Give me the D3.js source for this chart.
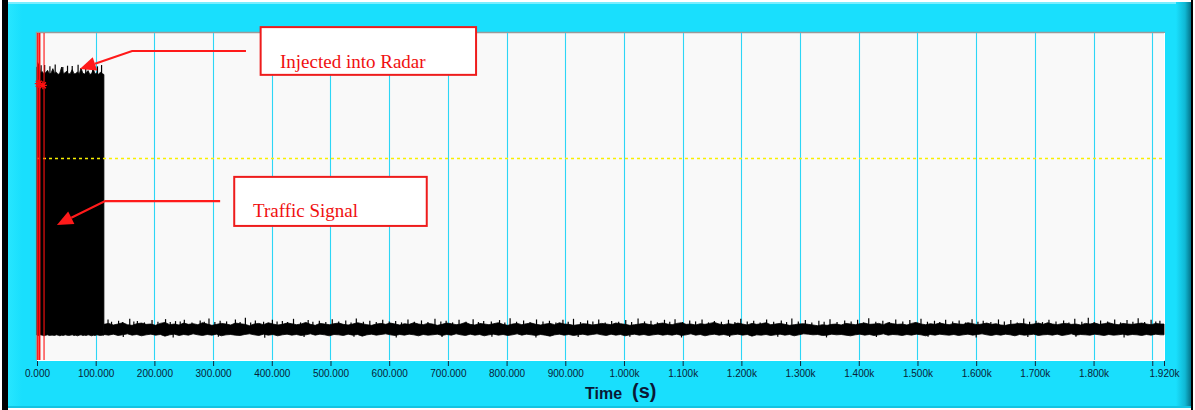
<!DOCTYPE html>
<html>
<head>
<meta charset="utf-8">
<script src="https://cdn.jsdelivr.net/npm/d3@7"></script>
<style>
  html, body { margin: 0; padding: 0; background: #ffffff; }
  svg { display: block; }
</style>
</head>
<body>
<svg id="chart" width="1195" height="410"></svg>
<script>
// ---- data -------------------------------------------------------------
// time axis (s)
const timeDomain = [0, 1920];
const tickValues = [0, 100, 200, 300, 400, 500, 600, 700, 800, 900, 1000,
  1100, 1200, 1300, 1400, 1500, 1600, 1700, 1800, 1900, 1920];
const hiddenTickLabels = [1900];
// amplitude axis (arbitrary units, not labelled)
const ampDomain = [0, 100];
const thresholdLevel = 61.8;

// injected burst: envelope every 3 s from 0 to 114 s
const burstStart = 0, burstStep = 3;
const burstHi = [89.5, 90.6, 87.8, 88.2, 87.4, 87.9, 88.6, 87.5, 87.7, 89.1,
  87.6, 88.0, 87.3, 87.8, 89.6, 87.5, 87.9, 88.3, 87.4, 87.7,
  88.8, 87.5, 87.6, 88.1, 87.4, 89.3, 87.7, 87.5, 87.9, 88.5,
  87.3, 87.6, 88.9, 87.5, 87.8, 87.4, 88.0, 87.6, 87.3];
const burstLo = [7.6, 7.5, 7.7, 7.6, 7.4, 7.6, 7.7, 7.5, 7.6, 7.6,
  7.5, 7.7, 7.6, 7.4, 7.6, 7.5, 7.7, 7.6, 7.5, 7.6,
  7.7, 7.5, 7.6, 7.4, 7.6, 7.7, 7.5, 7.6, 7.5, 7.7,
  7.6, 7.4, 7.6, 7.5, 7.7, 7.6, 7.5, 7.6, 7.6];
const burstSpikes = [[1, 91.0], [4, 90.8], [7, 90.1], [13, 90.2], [22, 89.8],
  [31, 90.4], [44, 89.6], [52, 90.0], [60, 89.9], [70, 90.3], [83, 89.7],
  [95, 90.1], [103, 89.8], [110, 90.2]];

// traffic signal: envelope every 8 s from 114 s onwards
const noiseStart = 114, noiseStep = 8;
const noiseHi = [10.9, 11.2, 10.7, 11.0, 11.4, 10.8, 10.6, 11.1, 11.3, 10.9,
  11.0, 10.6, 11.2, 11.5, 10.8, 11.0, 10.7, 11.3, 10.9, 11.1,
  10.8, 11.4, 11.0, 10.6, 10.9, 11.2, 11.0, 10.7, 11.3, 11.1,
  10.9, 10.5, 11.0, 11.2, 10.8, 11.4, 11.0, 10.7, 10.9, 11.3,
  11.1, 10.8, 11.0, 11.5, 10.9, 10.6, 11.2, 11.0, 10.8, 11.1,
  11.3, 10.9, 10.7, 11.0, 11.4, 11.1, 10.8, 10.6, 11.0, 11.2,
  10.9, 11.3, 11.0, 10.7, 11.1, 10.9, 11.4, 11.0, 10.8, 11.2,
  11.0, 10.6, 10.9, 11.3, 11.1, 10.8, 11.0, 11.5, 10.9, 10.7,
  11.2, 11.0, 10.8, 11.1, 11.4, 10.9, 10.6, 11.0, 11.2, 10.8,
  11.1, 11.3, 10.9, 10.7, 11.0, 11.2, 10.8, 11.4, 11.0, 10.9,
  10.6, 10.8, 11.1, 11.0, 10.7, 10.9, 11.2, 11.0, 10.8, 11.3,
  11.1, 10.9, 10.6, 10.8, 11.0, 11.2, 10.9, 10.7, 11.1, 11.3,
  11.0, 10.8, 11.2, 11.4, 10.9, 11.0, 10.7, 11.1, 10.9, 11.2,
  11.5, 11.0, 10.8, 11.1, 10.9, 11.3, 11.0, 10.7, 11.2, 10.9,
  11.1, 11.4, 10.8, 11.0, 11.2, 10.9, 10.6, 10.8, 11.0, 11.1,
  10.9, 10.7, 10.5, 10.8, 10.6, 10.9, 11.0, 10.7, 11.2, 11.0,
  10.8, 11.1, 11.3, 10.9, 11.0, 11.2, 10.8, 11.4, 11.1, 10.9,
  11.0, 10.7, 11.2, 11.5, 11.0, 10.8, 11.1, 10.9, 11.3, 11.0,
  10.8, 11.2, 11.0, 10.9, 11.4, 11.1, 10.8, 11.0, 11.3, 10.9,
  11.1, 10.7, 10.6, 10.9, 11.0, 11.2, 11.1, 10.8, 11.0, 11.3,
  10.9, 11.4, 11.0, 10.8, 11.1, 11.2, 10.9, 11.0, 10.7, 11.2,
  11.0, 11.3, 10.9, 11.1, 11.4, 11.0, 10.8, 11.2, 11.0, 10.9,
  11.1, 11.3, 11.0, 10.8, 11.2, 11.0];
const noiseLo = [7.8, 7.6, 7.9, 7.5, 7.7, 8.0, 7.6, 7.8, 7.4, 7.7,
  7.9, 7.6, 7.8, 7.3, 7.7, 7.9, 7.5, 7.8, 7.6, 8.0,
  7.7, 7.5, 7.8, 7.6, 7.9, 7.4, 7.7, 7.8, 7.6, 7.5,
  7.8, 8.0, 7.7, 7.5, 7.9, 7.6, 7.8, 7.4, 7.7, 7.9,
  7.6, 7.8, 7.5, 7.7, 8.0, 7.6, 7.9, 7.7, 7.4, 7.8,
  7.7, 7.5, 7.9, 7.6, 7.8, 7.3, 7.7, 7.9, 7.6, 7.8,
  8.0, 7.7, 7.5, 7.8, 7.6, 7.9, 7.7, 7.4, 7.8, 7.6,
  7.7, 7.9, 7.5, 7.8, 7.6, 8.0, 7.7, 7.5, 7.9, 7.6,
  7.8, 7.4, 7.7, 7.9, 7.6, 7.8, 7.5, 7.7, 8.0, 7.6,
  7.9, 7.7, 7.5, 7.8, 7.6, 7.3, 7.7, 7.9, 7.6, 7.8,
  7.5, 7.7, 7.9, 7.6, 7.8, 8.0, 7.7, 7.5, 7.9, 7.6,
  7.8, 7.4, 7.7, 7.9, 7.6, 7.8, 7.5, 7.7, 7.9, 7.6,
  7.8, 7.6, 7.9, 7.5, 7.7, 8.0, 7.6, 7.8, 7.4, 7.7,
  7.9, 7.6, 7.8, 7.5, 7.7, 7.9, 7.6, 7.8, 7.3, 7.7,
  7.6, 7.8, 7.5, 7.7, 7.9, 7.6, 7.8, 7.4, 7.7, 8.0,
  7.9, 7.7, 7.8, 7.5, 7.6, 7.9, 7.7, 7.8, 7.6, 7.4,
  7.7, 7.9, 7.6, 7.8, 7.5, 7.7, 8.0, 7.6, 7.8, 7.7,
  7.5, 7.8, 7.6, 7.9, 7.7, 7.4, 7.8, 7.6, 7.9, 7.7,
  7.6, 7.8, 7.5, 7.7, 7.9, 7.6, 7.8, 8.0, 7.7, 7.5,
  7.8, 7.6, 7.9, 7.7, 7.4, 7.8, 7.6, 7.7, 7.9, 7.5,
  7.7, 7.8, 7.6, 7.9, 7.5, 7.7, 8.0, 7.6, 7.8, 7.7,
  7.6, 7.9, 7.7, 7.5, 7.8, 7.6, 7.7, 7.9, 7.6, 7.8,
  7.7, 7.5, 7.8, 7.6, 7.9, 7.7];
const noiseSpikesUp = [[121, 12.4], [139, 12.0], [158, 12.6], [171, 11.9], [196, 12.2],
  [219, 12.5], [236, 11.9], [251, 12.3], [278, 12.1], [293, 12.7], [312, 12.0],
  [338, 12.4], [355, 12.9], [372, 12.1], [401, 12.3], [418, 11.9], [437, 12.6],
  [462, 12.2], [481, 12.0], [503, 12.5], [526, 12.1], [544, 12.7], [567, 12.0],
  [589, 12.3], [611, 11.9], [632, 12.4], [655, 12.1], [678, 12.6], [697, 12.0],
  [719, 12.3], [743, 12.5], [761, 11.9], [788, 12.2], [806, 12.8], [829, 12.1],
  [851, 12.4], [873, 12.0], [896, 12.3], [914, 12.6], [938, 12.1], [957, 12.4],
  [979, 11.9], [1003, 12.2], [1024, 12.7], [1046, 12.0], [1069, 12.3], [1087, 12.5],
  [1112, 12.1], [1133, 12.4], [1154, 11.9], [1178, 12.3], [1199, 12.6], [1221, 12.0],
  [1243, 12.4], [1268, 12.1], [1286, 12.7], [1309, 12.2], [1332, 12.0], [1351, 12.5],
  [1376, 12.1], [1398, 12.3], [1417, 12.8], [1441, 12.0], [1463, 12.4], [1487, 12.2],
  [1506, 12.6], [1529, 12.0], [1548, 12.3], [1571, 12.1], [1593, 12.5], [1612, 12.0],
  [1638, 12.4], [1659, 12.2], [1681, 12.7], [1702, 12.0], [1724, 12.3], [1749, 12.1],
  [1768, 12.6], [1791, 12.9], [1812, 12.1], [1836, 12.4], [1857, 12.2], [1876, 12.8],
  [1898, 12.3], [1913, 12.0]];
// smaller ripples on the upper edge of the traffic band
const noiseRipples = [[127, 11.7], [146, 11.6], [165, 11.8], [183, 11.5], [206, 11.7],
  [227, 11.6], [244, 11.8], [264, 11.5], [285, 11.7], [303, 11.6], [323, 11.8],
  [346, 11.6], [364, 11.5], [386, 11.7], [409, 11.8], [427, 11.6], [449, 11.5],
  [470, 11.7], [492, 11.6], [514, 11.8], [535, 11.5], [556, 11.7], [578, 11.6],
  [600, 11.8], [621, 11.5], [643, 11.7], [666, 11.6], [688, 11.8], [708, 11.5],
  [731, 11.7], [752, 11.6], [774, 11.8], [797, 11.5], [817, 11.7], [840, 11.6],
  [862, 11.8], [884, 11.5], [905, 11.7], [926, 11.6], [947, 11.8], [968, 11.5],
  [991, 11.7], [1013, 11.6], [1035, 11.8], [1057, 11.5], [1078, 11.7], [1100, 11.6],
  [1122, 11.8], [1144, 11.5], [1166, 11.7], [1189, 11.6], [1210, 11.8], [1232, 11.5],
  [1255, 11.7], [1277, 11.6], [1297, 11.8], [1320, 11.5], [1341, 11.7], [1363, 11.6],
  [1387, 11.8], [1408, 11.5], [1429, 11.7], [1452, 11.6], [1475, 11.8], [1496, 11.5],
  [1517, 11.7], [1538, 11.6], [1560, 11.8], [1582, 11.5], [1603, 11.7], [1625, 11.6],
  [1648, 11.8], [1670, 11.5], [1691, 11.7], [1713, 11.6], [1736, 11.8], [1758, 11.5],
  [1780, 11.7], [1801, 11.6], [1824, 11.8], [1846, 11.5], [1867, 11.7], [1887, 11.6],
  [1906, 11.8]];
const noiseSpikesDown = [[147, 7.0], [232, 6.9], [309, 7.1], [388, 6.8], [455, 7.0],
  [540, 7.1], [612, 6.9], [690, 7.0], [775, 7.1], [850, 6.9], [922, 7.0], [1010, 7.1],
  [1098, 6.9], [1180, 7.0], [1262, 7.1], [1345, 6.9], [1430, 7.0], [1518, 7.1],
  [1600, 6.9], [1688, 7.0], [1770, 7.1], [1852, 6.9]];

// cursors (s) and cursor point markers [time, level]
const cursorTimes = [1.5, 4.5, 12];
const cursorWidths = [1.6, 1.6, 1.1];
const cursorMarks = [[3, 84.5], [10, 84.0]];

// callouts, placed in [time, level] coordinates
const callouts = [
  { text: "Injected into Radar", box: [381, 101.8, 748, 87.2], textAt: [414, 89.4],
    path: [[356, 94.5], [162, 94.5], [73, 89.0]] },
  { text: "Traffic Signal", box: [336, 56.0, 664, 41.0], textAt: [368, 43.6],
    path: [[312, 48.6], [116, 48.6], [34, 41.3]] }
];

// ---- layout -------------------------------------------------------------
const W = 1195, H = 410;
const plot = { left: 37, right: 1164, top: 33, bottom: 360 };
const svg = d3.select("#chart");

const x = d3.scaleLinear().domain(timeDomain).range([plot.left, plot.right]);
const y = d3.scaleLinear().domain(ampDomain).range([plot.bottom, plot.top]);

// ---- panel frame ---------------------------------------------------------
const defs = svg.append("defs");
const rightShade = defs.append("linearGradient").attr("id", "rightShade");
rightShade.append("stop").attr("offset", "0%").attr("stop-color", "#19dffd");
rightShade.append("stop").attr("offset", "60%").attr("stop-color", "#10b8d4");
rightShade.append("stop").attr("offset", "100%").attr("stop-color", "#057489");
const leftShade = defs.append("linearGradient").attr("id", "leftShade");
leftShade.append("stop").attr("offset", "0%").attr("stop-color", "#27e6ff");
leftShade.append("stop").attr("offset", "100%").attr("stop-color", "#19dffd");

svg.append("rect").attr("width", W).attr("height", H).attr("fill", "#ffffff");
svg.append("rect").attr("x", 2).attr("y", 0).attr("width", 6).attr("height", H).attr("fill", "#000");
svg.append("rect").attr("x", 8).attr("y", 2).attr("width", 1183).attr("height", 406).attr("fill", "#19dffd");
svg.append("rect").attr("x", 8).attr("y", 2).attr("width", 14).attr("height", 406).attr("fill", "url(#leftShade)");
svg.append("rect").attr("x", 8).attr("y", 2).attr("width", 1183).attr("height", 2).attr("fill", "#7aeeff");
svg.append("rect").attr("x", 1176).attr("y", 2).attr("width", 15).attr("height", 406).attr("fill", "url(#rightShade)");
svg.append("rect").attr("x", 1191).attr("y", 0).attr("width", 2).attr("height", H).attr("fill", "#000");
svg.append("rect").attr("x", 8).attr("y", 406).attr("width", 1183).attr("height", 2).attr("fill", "#12c4e2");

// plot background with bevelled edge
svg.append("rect")
  .attr("x", plot.left - 1).attr("y", plot.top)
  .attr("width", plot.right - plot.left + 1).attr("height", plot.bottom - plot.top)
  .attr("fill", "#f9f9f9");
svg.append("path")
  .attr("d", `M${plot.left - 0.5},${plot.bottom}V${plot.top - 0.5}H${plot.right + 1}`)
  .attr("fill", "none").attr("stroke", "#9a9a9a").attr("stroke-width", 1.5);
svg.append("path")
  .attr("d", `M${plot.left},${plot.bottom + 0.5}H${plot.right + 0.5}V${plot.top}`)
  .attr("fill", "none").attr("stroke", "#ffffff").attr("stroke-width", 1);

// ---- grid -----------------------------------------------------------------
svg.append("g").selectAll("line")
  .data(tickValues.filter(t => t > 0 && t < timeDomain[1]))
  .join("line")
  .attr("x1", d => Math.round(x(d)) + 0.5).attr("x2", d => Math.round(x(d)) + 0.5)
  .attr("y1", plot.top).attr("y2", plot.bottom)
  .attr("stroke", "#2cd6f6").attr("stroke-width", 1.1);

// ---- signal ---------------------------------------------------------------
const burstPts = burstHi.map((v, i) => ({ t: burstStart + i * burstStep, hi: v, lo: burstLo[i] }));
const noisePts = noiseHi.map((v, i) => ({ t: Math.min(noiseStart + i * noiseStep, timeDomain[1]), hi: v, lo: noiseLo[i] }));
noisePts.push({ t: timeDomain[1], hi: noiseHi[noiseHi.length - 1], lo: noiseLo[noiseLo.length - 1] });

const band = d3.area().x(d => x(d.t)).y0(d => y(d.lo)).y1(d => y(d.hi)).curve(d3.curveLinear);
const sig = svg.append("g");
sig.append("path").datum(burstPts).attr("d", band).attr("fill", "#000")
  .attr("stroke", "#000").attr("stroke-width", 0.8);
sig.append("path").datum(noisePts).attr("d", band).attr("fill", "#000")
  .attr("stroke", "#000").attr("stroke-width", 0.8);

const spikeLine = (data, base) => sig.append("g").selectAll("line").data(data).join("line")
  .attr("x1", d => x(d[0])).attr("x2", d => x(d[0]))
  .attr("y1", y(base)).attr("y2", d => y(d[1]))
  .attr("stroke", "#000").attr("stroke-width", 1.2);
spikeLine(burstSpikes, 87);
spikeLine(noiseSpikesUp, 10.5);
spikeLine(noiseRipples, 10.5);
spikeLine(noiseSpikesDown, 8);

// ---- threshold -------------------------------------------------------------
svg.append("line")
  .attr("x1", plot.left).attr("x2", plot.right)
  .attr("y1", Math.round(y(thresholdLevel)) + 0.5).attr("y2", Math.round(y(thresholdLevel)) + 0.5)
  .attr("stroke", "#f8f000").attr("stroke-width", 1.3).attr("stroke-dasharray", "3,3");

// ---- cursors -----------------------------------------------------------------
svg.append("g").selectAll("line").data(cursorTimes).join("line")
  .attr("x1", d => x(d)).attr("x2", d => x(d))
  .attr("y1", plot.top).attr("y2", plot.bottom)
  .attr("stroke", "#ff1010").attr("stroke-width", (d, i) => cursorWidths[i]);
const cm = svg.append("g").attr("stroke", "#ff1010").attr("stroke-width", 1.3).attr("fill", "none");
cursorMarks.forEach(([t, v]) => {
  const cx = x(t), cy = y(v);
  cm.append("path").attr("d", `M${cx - 4},${cy}H${cx + 4}M${cx},${cy - 4}V${cy + 4}M${cx - 3},${cy - 3}L${cx + 3},${cy + 3}M${cx - 3},${cy + 3}L${cx + 3},${cy - 3}`);
});

// ---- axis ------------------------------------------------------------------
const fmt = v => hiddenTickLabels.includes(v) ? "" : (v < 1000 ? v.toFixed(3) : (v / 1000).toFixed(3) + "k");
const axis = svg.append("g")
  .attr("transform", `translate(0,${plot.bottom + 1})`)
  .call(d3.axisBottom(x).tickValues(tickValues).tickFormat(fmt).tickSize(5).tickSizeOuter(0).tickPadding(4));
axis.select(".domain").remove();
axis.selectAll(".tick line").attr("stroke", "#10263a").attr("stroke-width", 1);
axis.selectAll(".tick text")
  .attr("fill", "#082236")
  .style("font-family", "'Liberation Sans', Arial, sans-serif")
  .style("font-size", "10px");

const title = svg.append("text").attr("y", 399)
  .attr("fill", "#0a1836")
  .style("font-family", "'Liberation Sans', Arial, sans-serif")
  .style("font-weight", "bold");
title.append("tspan").attr("x", 585).style("font-size", "16px").text("Time");
title.append("tspan").attr("x", 632).attr("dy", -1).style("font-size", "20px").text("(s)");

// ---- callouts -----------------------------------------------------------------
const co = svg.append("g");
callouts.forEach(c => {
  const [t0, v0, t1, v1] = c.box;
  co.append("rect")
    .attr("x", x(t0)).attr("y", y(v0))
    .attr("width", x(t1) - x(t0)).attr("height", y(v1) - y(v0))
    .attr("fill", "#ffffff").attr("stroke", "#ee1c1c").attr("stroke-width", 2);
  co.append("text")
    .attr("x", x(c.textAt[0])).attr("y", y(c.textAt[1]))
    .attr("fill", "#f01010")
    .style("font-family", "'Liberation Serif', 'Times New Roman', serif")
    .style("font-size", "19px")
    .text(c.text);

  const pts = c.path.map(([t, v]) => [x(t), y(v)]);
  const tip = pts[pts.length - 1], prev = pts[pts.length - 2];
  const ang = Math.atan2(tip[1] - prev[1], tip[0] - prev[0]);
  const len = 16, half = 7;
  const bx = tip[0] - len * Math.cos(ang), by = tip[1] - len * Math.sin(ang);
  const linePts = pts.slice(0, -1).concat([[bx, by]]);
  co.append("path").attr("d", d3.line()(linePts))
    .attr("fill", "none").attr("stroke", "#ff1a1a").attr("stroke-width", 2.2);
  co.append("path")
    .attr("d", d3.line()([tip,
      [bx + half * Math.sin(ang), by - half * Math.cos(ang)],
      [bx - half * Math.sin(ang), by + half * Math.cos(ang)]]) + "Z")
    .attr("fill", "#ff1a1a");
});
</script>
</body>
</html>
